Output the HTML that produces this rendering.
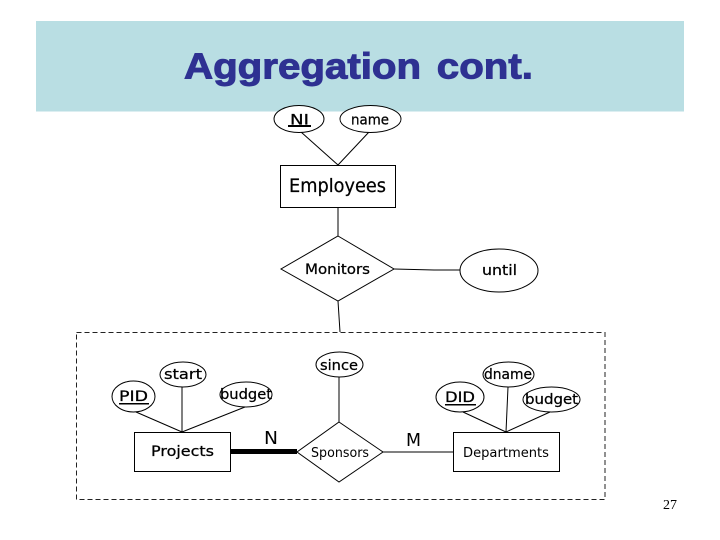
<!DOCTYPE html>
<html>
<head>
<meta charset="utf-8">
<style>
html,body{margin:0;padding:0;background:#fff;width:720px;height:540px;overflow:hidden}
svg{display:block}
.c{font-family:"DejaVu Sans","Liberation Sans",sans-serif;font-size:14px;fill:#000;stroke:#000;stroke-width:.25px;text-anchor:start}
.l{stroke-width:0}
</style>
</head>
<body>
<svg width="720" height="540" viewBox="0 0 720 540" xmlns="http://www.w3.org/2000/svg">
<rect width="720" height="540" fill="#fff"/>
<rect x="36" y="21" width="648" height="90.500" fill="#b9dee3"/>
<text x="184" y="78.500" font-family="'Liberation Sans',sans-serif" font-weight="bold" font-size="36" fill="#2e3192" stroke="#2e3192" stroke-width="1" word-spacing="4" textLength="349" lengthAdjust="spacingAndGlyphs">Aggregation cont.</text>

<g fill="none" stroke="#000" stroke-width="1">
<rect x="76.500" y="332.500" width="528.500" height="167" stroke-dasharray="5 3" stroke="#222"/>
<path d="M301 132L338 165M369 132L338 165M338 207V236"/>
<path d="M394 269L434 270H460M338 301L340 332"/>
<path d="M136 412L182 432M182 387V432M245 407L182 432"/>
<path d="M339 377V422M383 452H453"/>
<path d="M463 412L506 432M508 387L506 432M550 412L506 432"/>
<ellipse cx="299" cy="119" rx="25" ry="13.500" fill="#fff"/>
<ellipse cx="370.500" cy="119" rx="30.500" ry="13.500" fill="#fff"/>
<rect x="280.500" y="165.500" width="115" height="42" fill="#fff"/>
<polygon points="338,236 394,269 338,301 281,269" fill="#fff"/>
<ellipse cx="499" cy="270.500" rx="39" ry="21.500" fill="#fff"/>
<ellipse cx="339.500" cy="364.500" rx="23.500" ry="12.500" fill="#fff"/>
<ellipse cx="183" cy="374.500" rx="23" ry="12.500" fill="#fff"/>
<ellipse cx="133.500" cy="396.500" rx="21.500" ry="15.500" fill="#fff"/>
<ellipse cx="246" cy="394.500" rx="26" ry="12.500" fill="#fff"/>
<rect x="134.500" y="432.500" width="96" height="39" fill="#fff"/>
<polygon points="339,422 383,452 339,482 297,452" fill="#fff"/>
<ellipse cx="508.500" cy="374.500" rx="25.500" ry="12.500" fill="#fff"/>
<ellipse cx="460" cy="397" rx="24" ry="15" fill="#fff"/>
<ellipse cx="551.500" cy="399.500" rx="28.500" ry="12.500" fill="#fff"/>
<rect x="453.500" y="432.500" width="106" height="39" fill="#fff"/>
</g>
<rect x="231" y="449" width="66" height="5" fill="#000"/>

<text class="c" x="290" y="124.500" textLength="19" lengthAdjust="spacingAndGlyphs">NI</text>
<rect x="288" y="125" width="23" height="2" fill="#000"/>
<text class="c" x="351" y="124.500" textLength="38" lengthAdjust="spacingAndGlyphs">name</text>
<text class="c" x="289" y="192" style="font-size:19px" textLength="97" lengthAdjust="spacingAndGlyphs">Employees</text>
<text class="c" x="305" y="274" textLength="65" lengthAdjust="spacingAndGlyphs">Monitors</text>
<text class="c" x="482" y="275" textLength="35" lengthAdjust="spacingAndGlyphs">until</text>
<text class="c" x="320" y="370" textLength="38" lengthAdjust="spacingAndGlyphs">since</text>
<text class="c" x="164" y="379" textLength="38" lengthAdjust="spacingAndGlyphs">start</text>
<text class="c" x="119" y="401" textLength="29" lengthAdjust="spacingAndGlyphs">PID</text>
<rect x="119" y="403" width="30" height="1.500" fill="#000"/>
<text class="c" x="220" y="399" textLength="52" lengthAdjust="spacingAndGlyphs">budget</text>
<text class="c" x="151" y="456" textLength="63" lengthAdjust="spacingAndGlyphs">Projects</text>
<text class="c l" x="264" y="444" style="font-size:18px" textLength="14" lengthAdjust="spacingAndGlyphs">N</text>
<text class="c l" x="311" y="457" style="font-size:13px" textLength="58" lengthAdjust="spacingAndGlyphs">Sponsors</text>
<text class="c l" x="406" y="446" style="font-size:18px" textLength="15" lengthAdjust="spacingAndGlyphs">M</text>
<text class="c" x="484" y="379" textLength="48" lengthAdjust="spacingAndGlyphs">dname</text>
<text class="c" x="445" y="402" textLength="30" lengthAdjust="spacingAndGlyphs">DID</text>
<rect x="445" y="404" width="31" height="1.500" fill="#000"/>
<text class="c" x="525" y="404" textLength="53" lengthAdjust="spacingAndGlyphs">budget</text>
<text class="c l" x="463" y="457" style="font-size:13px" textLength="86" lengthAdjust="spacingAndGlyphs">Departments</text>
<text x="663" y="509" font-family="'Liberation Serif',serif" font-size="14" fill="#000" textLength="14">27</text>
</svg>
</body>
</html>
